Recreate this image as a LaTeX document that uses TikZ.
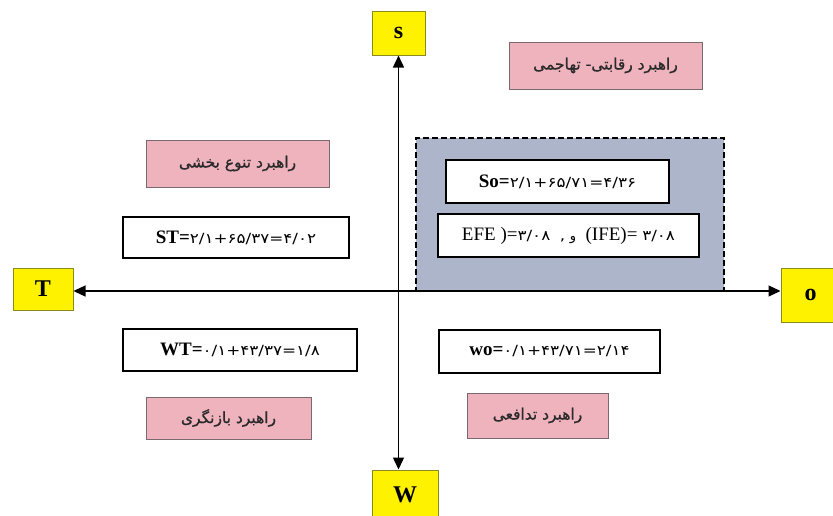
\documentclass[tikz,border=0pt]{standalone}
\usepackage{fontspec}
\setmainfont{Liberation Serif}
\newfontfamily\arabicfont[Script=Arabic]{DejaVu Sans}
\newfontfamily\labelfont[Script=Arabic,FakeBold=0.8]{DejaVu Sans}
\newfontfamily\digfont[FakeStretch=1.2]{DejaVu Sans}
\TeXXeTstate=1
\usetikzlibrary{arrows.meta}
\definecolor{pinkfill}{HTML}{EFB3BE}
\definecolor{pinkdraw}{HTML}{7A6A70}
\definecolor{grayfill}{HTML}{ACB5C9}
\definecolor{yelldraw}{HTML}{8A8A20}
\definecolor{labtext}{HTML}{2A2A2A}
\tikzset{
  axisbox/.style={draw=yelldraw, line width=1pt, fill=yellow, font=\fontsize{24}{24}\selectfont\bfseries, inner sep=0pt},
  pinkbox/.style={draw=pinkdraw, line width=0.9pt, fill=pinkfill, text=labtext, font=\labelfont\fontsize{15.5}{17}\selectfont, inner sep=0pt},
  valbox/.style={draw=black, line width=2.2pt, fill=white, inner sep=0pt, font=\fontsize{19}{21}\selectfont},
  axisline/.style={line width=1.3pt, {Triangle[length=12pt,width=11pt]}-{Triangle[length=12pt,width=11pt]}},
}
\newcommand{\dg}[1]{{\digfont\fontsize{14}{16}\selectfont #1}}
\begin{document}
\begin{tikzpicture}[x=1pt,y=-1pt]
\useasboundingbox (0,0) rectangle (833,515);
% quadrant box
\node[draw=black, line width=1.6pt, dashed, dash pattern=on 6pt off 3pt, fill=grayfill, minimum width=308pt, minimum height=153pt, inner sep=0pt] (quad) at (570,214.5) {};
% axis label boxes
\node[axisbox, minimum width=53pt, minimum height=44pt] (s) at (398.5,33) {s};
\node[axisbox, minimum width=66pt, minimum height=50pt] (w) at (405,495) {W};
\node[axisbox, minimum width=60pt, minimum height=42pt] (t) at (43,289) {T};
\node[axisbox, minimum width=59pt, minimum height=54pt] (o) at (810.5,295) {o};
% axes
\coordinate (ay) at (0,291);
\draw[axisline] (t.east |- ay) -- (o.west |- ay);
\draw[axisline] (s.south) -- (s.south |- w.north);
% strategy labels
\node[pinkbox, minimum width=193pt, minimum height=47pt] (p1) at (605.5,65.5) {\beginR راهبرد رقابتی- تهاجمی\endR};
\node[pinkbox, minimum width=183pt, minimum height=47pt] (p2) at (237.5,163.5) {\beginR راهبرد تنوع بخشی\endR};
\node[pinkbox, minimum width=165pt, minimum height=42pt] (p3) at (228.5,418) {\beginR راهبرد بازنگری\endR};
\node[pinkbox, minimum width=141pt, minimum height=45pt] (p4) at (537.5,415.5) {\beginR راهبرد تدافعی\endR};
% value boxes
\node[valbox, minimum width=223pt, minimum height=43pt] (so) at (557.5,181.5) {\textbf{So=}\dg{۲/۱+۶۵/۷۱=۴/۳۶}};
\node[valbox, minimum width=261pt, minimum height=43pt] (efe) at (568.5,235.5) {EFE )=\dg{۳/۰۸}\ \ \dg{,}\ {\arabicfont\fontsize{13}{15}\selectfont\beginR و\endR}\ \ (IFE)= \dg{۳/۰۸}};
\node[valbox, minimum width=226pt, minimum height=41pt] (st) at (236,237.5) {\textbf{ST=}\dg{۲/۱+۶۵/۳۷=۴/۰۲}};
\node[valbox, minimum width=234pt, minimum height=42pt] (wt) at (240,350) {\textbf{WT=}\dg{۰/۱+۴۳/۳۷=۱/۸}};
\node[valbox, minimum width=221pt, minimum height=43pt] (wo) at (549.5,351.5) {\textbf{wo=}\dg{۰/۱+۴۳/۷۱=۲/۱۴}};
\end{tikzpicture}
\end{document}
